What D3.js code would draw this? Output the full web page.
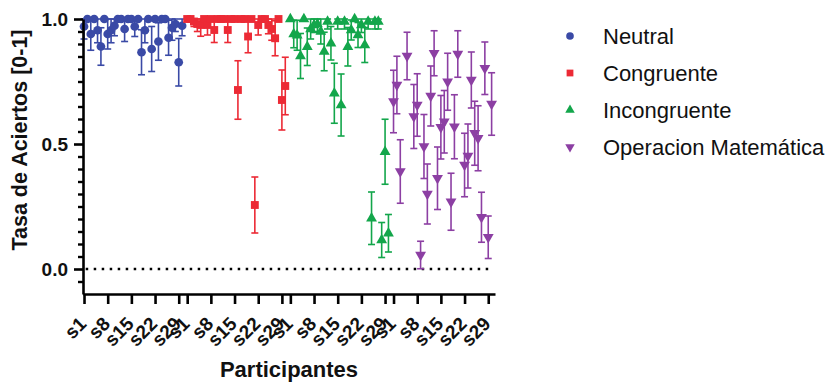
<!DOCTYPE html>
<html>
<head>
<meta charset="utf-8">
<script src="https://cdn.jsdelivr.net/npm/d3@7"></script>
<style>
  body { margin: 0; background: #fff; }
  svg { font-family: "Liberation Sans", Arial, Helvetica, sans-serif; }
</style>
</head>
<body>
<div id="chart"></div>
<script>
// participants per condition and the labelled ticks
const participants = d3.range(1, 31).map(i => 's' + i);
const tickLabels = ['s1', 's8', 's15', 's22', 's29'];
const conditions = ['Neutral', 'Congruente', 'Incongruente', 'Operacion Matemática'];

// mean hit rate per participant (null = no point)
const neutralMean = [0.97, 1.0, 0.94, 1.0, 0.955, 0.89, 1.0, 0.94, 0.955, 0.973,
  1.0, 1.0, 0.96, 1.0, 1.0, 0.97, 1.0, 0.867, 0.955, 1.0,
  0.88, 1.0, 0.91, 1.0, 1.0, 0.925, 0.965, 0.98, 0.827, 0.973];
const neutralSD = [0.05, 0, 0.065, 0, 0.05, 0.075, 0, 0.06, 0.05, 0.04,
  0, 0, 0.05, 0, 0, 0.04, 0, 0.09, 0.05, 0,
  0.09, 0, 0.075, 0, 0, 0.07, 0.05, 0.03, 0.095, 0.04];

const congruenteMean = [1.0, 1.0, 0.99, 0.98, 0.976, 1.0, 0.976, 1.0, 0.956, 1.0,
  1.0, 1.0, 0.956, 1.0, 1.0, 0.716, 1.0, 1.0, 0.93, 1.0,
  0.256, 0.976, 1.0, 1.0, 0.976, 0.96, 0.923, 1.0, 0.676, 0.732];
const congruenteSD = [0, 0, 0.02, 0.03, 0.045, 0, 0.04, 0, 0.05, 0,
  0, 0, 0.05, 0, 0, 0.117, 0, 0, 0.065, 0,
  0.112, 0.04, 0, 0, 0.035, 0.045, 0.07, 0, 0.12, 0.115];

const incongruenteMean = [1.0, 0.94, 0.935, 0.852, 1.0, 0.889, 0.96, 0.976, 0.98, 0.95,
  0.87, 0.99, 0.903, 0.703, 0.99, 0.656, 0.99, 0.889, 0.956, 1.0,
  0.936, 0.976, 0.896, 0.99, 0.203, 0.99, 0.99, 0.116, 0.469, 0.143];
const incongruenteSD = [0, 0.055, 0.06, 0.09, 0, 0.075, 0.04, 0.03, 0.03, 0.05,
  0.077, 0.03, 0.067, 0.12, 0.03, 0.124, 0.03, 0.077, 0.04, 0,
  0.05, 0.03, 0.07, 0.03, 0.105, 0.03, 0.03, 0.07, 0.13, 0.075];

const operacionMean = [0.67, 0.736, 0.39, null, 0.852, null, 0.61, 0.656, 0.056, 0.49,
  0.30, 0.692, 0.863, 0.363, 0.567, 0.589, 0.749, 0.269, 0.569, 0.86,
  null, 0.416, 0.452, 0.756, 0.543, 0.523, 0.207, 0.803, 0.127, 0.66];
const operacionSD = [0.125, 0.115, 0.127, 0, 0.095, 0, 0.128, 0.125, 0.055, 0.128,
  0.12, 0.12, 0.09, 0.125, 0.127, 0.125, 0.114, 0.114, 0.128, 0.093,
  0, 0.127, 0.128, 0.112, 0.128, 0.13, 0.1, 0.105, 0.085, 0.125];

const width = 829;
const height = 385;
const groupStep = 30.5;

const series = [
  { name: conditions[0], mean: neutralMean, sd: neutralSD, color: '#3A4AA6', shape: 'circle' },
  { name: conditions[1], mean: congruenteMean, sd: congruenteSD, color: '#EC2A35', shape: 'square' },
  { name: conditions[2], mean: incongruenteMean, sd: incongruenteSD, color: '#13A64B', shape: 'up' },
  { name: conditions[3], mean: operacionMean, sd: operacionSD, color: '#8C3FA3', shape: 'down' }
];

const svg = d3.select('#chart')
  .append('svg')
  .attr('width', width)
  .attr('height', height);

const x = d3.scaleLinear().domain([-0.3, 121.5]).range([83, 495]);
const y = d3.scaleLinear().domain([-0.1, 1.0]).range([294, 19]);

function markerPath(shape, s) {
  if (shape === 'circle') return d3.symbol(d3.symbolCircle, s)();
  if (shape === 'square') return d3.symbol(d3.symbolSquare, s)();
  return d3.symbol(d3.symbolTriangle, s * 0.85)();
}

// zero reference line
svg.append('line')
  .attr('x1', x(0.5)).attr('x2', x(120.5))
  .attr('y1', y(0)).attr('y2', y(0))
  .attr('stroke', '#000')
  .attr('stroke-width', 2.5)
  .attr('stroke-dasharray', '2.5,5.5');

// points and error bars
series.forEach((s, g) => {
  const data = s.mean.map((m, i) => ({ i: i, pos: g * groupStep + i, m: m, sd: s.sd[i] }))
    .filter(d => d.m !== null);
  const layer = svg.append('g').attr('class', 'series-' + g);
  const bars = data.filter(d => d.sd > 0);
  const lo = d => Math.max(0, d.m - d.sd);
  const hi = d => Math.min(1, d.m + d.sd);
  layer.selectAll('line.stem').data(bars).join('line')
    .attr('class', 'stem')
    .attr('x1', d => x(d.pos)).attr('x2', d => x(d.pos))
    .attr('y1', d => y(lo(d))).attr('y2', d => y(hi(d)))
    .attr('stroke', s.color).attr('stroke-width', 1.6);
  [lo, hi].forEach(f => {
    layer.selectAll(null).data(bars).join('line')
      .attr('x1', d => x(d.pos) - 3.5).attr('x2', d => x(d.pos) + 3.5)
      .attr('y1', d => y(f(d))).attr('y2', d => y(f(d)))
      .attr('stroke', s.color).attr('stroke-width', 1.6);
  });
  layer.selectAll('path.pt').data(data).join('path')
    .attr('class', 'pt')
    .attr('d', markerPath(s.shape, s.shape === 'square' ? 62 : 60))
    .attr('transform', d => `translate(${x(d.pos)},${y(d.m)})` + (s.shape === 'down' ? ' rotate(180)' : ''))
    .attr('fill', s.color);
});

// x axis
const tickPos = [];
const tickText = [];
for (let g = 0; g < 4; g++) {
  tickLabels.forEach(t => {
    tickPos.push(g * groupStep + participants.indexOf(t));
    tickText.push(t);
  });
}
const xAxis = d3.axisBottom(x)
  .tickValues(tickPos)
  .tickFormat((d, i) => tickText[i])
  .tickSize(10)
  .tickSizeOuter(0);
const gx = svg.append('g')
  .attr('class', 'x-axis-container')
  .attr('transform', `translate(0, ${y(-0.1)})`)
  .call(xAxis);
gx.select('.domain').attr('stroke-width', 2.6);
gx.selectAll('line').attr('stroke-width', 2.6);
gx.selectAll('text')
  .attr('x', 0).attr('y', 0).attr('dy', 0)
  .attr('text-anchor', 'end')
  .attr('transform', 'translate(3, 31) rotate(-45)')
  .attr('font-size', 19)
  .attr('font-weight', 700)
  .attr('font-family', '"Liberation Sans", Arial, sans-serif')
  .attr('fill', '#111');

// y axis with minor ticks
const minor = d3.range(-1, 20).map(k => k * 0.05).filter(v => Math.abs(v % 0.5) > 1e-6);
const gyMinor = svg.append('g')
  .attr('transform', `translate(${x(-0.3)}, 0)`)
  .call(d3.axisLeft(y).tickValues(minor).tickSize(5).tickFormat(''));
gyMinor.select('.domain').remove();
gyMinor.selectAll('line').attr('stroke-width', 2.4);

const gy = svg.append('g')
  .attr('class', 'y-axis-container')
  .attr('transform', `translate(${x(-0.3)}, 0)`)
  .call(d3.axisLeft(y).tickValues([0, 0.5, 1]).tickFormat(d3.format('.1f'))
    .tickSize(9).tickPadding(6).tickSizeOuter(0));
gy.select('.domain').attr('stroke-width', 2.6);
gy.selectAll('line').attr('stroke-width', 2.6);
gy.selectAll('text')
  .attr('font-size', 19)
  .attr('font-weight', 700)
  .attr('font-family', '"Liberation Sans", Arial, sans-serif')
  .attr('fill', '#111');

// axis titles
svg.append('text')
  .attr('transform', 'translate(27, 140) rotate(-90)')
  .attr('text-anchor', 'middle')
  .attr('font-size', 21.5)
  .attr('font-weight', 700)
  .attr('fill', '#111')
  .text('Tasa de Aciertos [0-1]');

svg.append('text')
  .attr('x', 289).attr('y', 377)
  .attr('text-anchor', 'middle')
  .attr('font-size', 22)
  .attr('font-weight', 700)
  .attr('fill', '#111')
  .text('Participantes');

// legend
const legend = svg.append('g').attr('class', 'legend');
series.forEach((s, k) => {
  const cy = 36 + k * 37;
  legend.append('path')
    .attr('d', markerPath(s.shape, s.shape === 'square' ? 46 : 46))
    .attr('transform', `translate(570, ${cy})` + (s.shape === 'down' ? ' rotate(180)' : ''))
    .attr('fill', s.color);
  legend.append('text')
    .attr('x', 603).attr('y', cy + 8)
    .attr('font-size', 22)
    .attr('fill', '#111')
    .text(s.name);
});
</script>
</body>
</html>
